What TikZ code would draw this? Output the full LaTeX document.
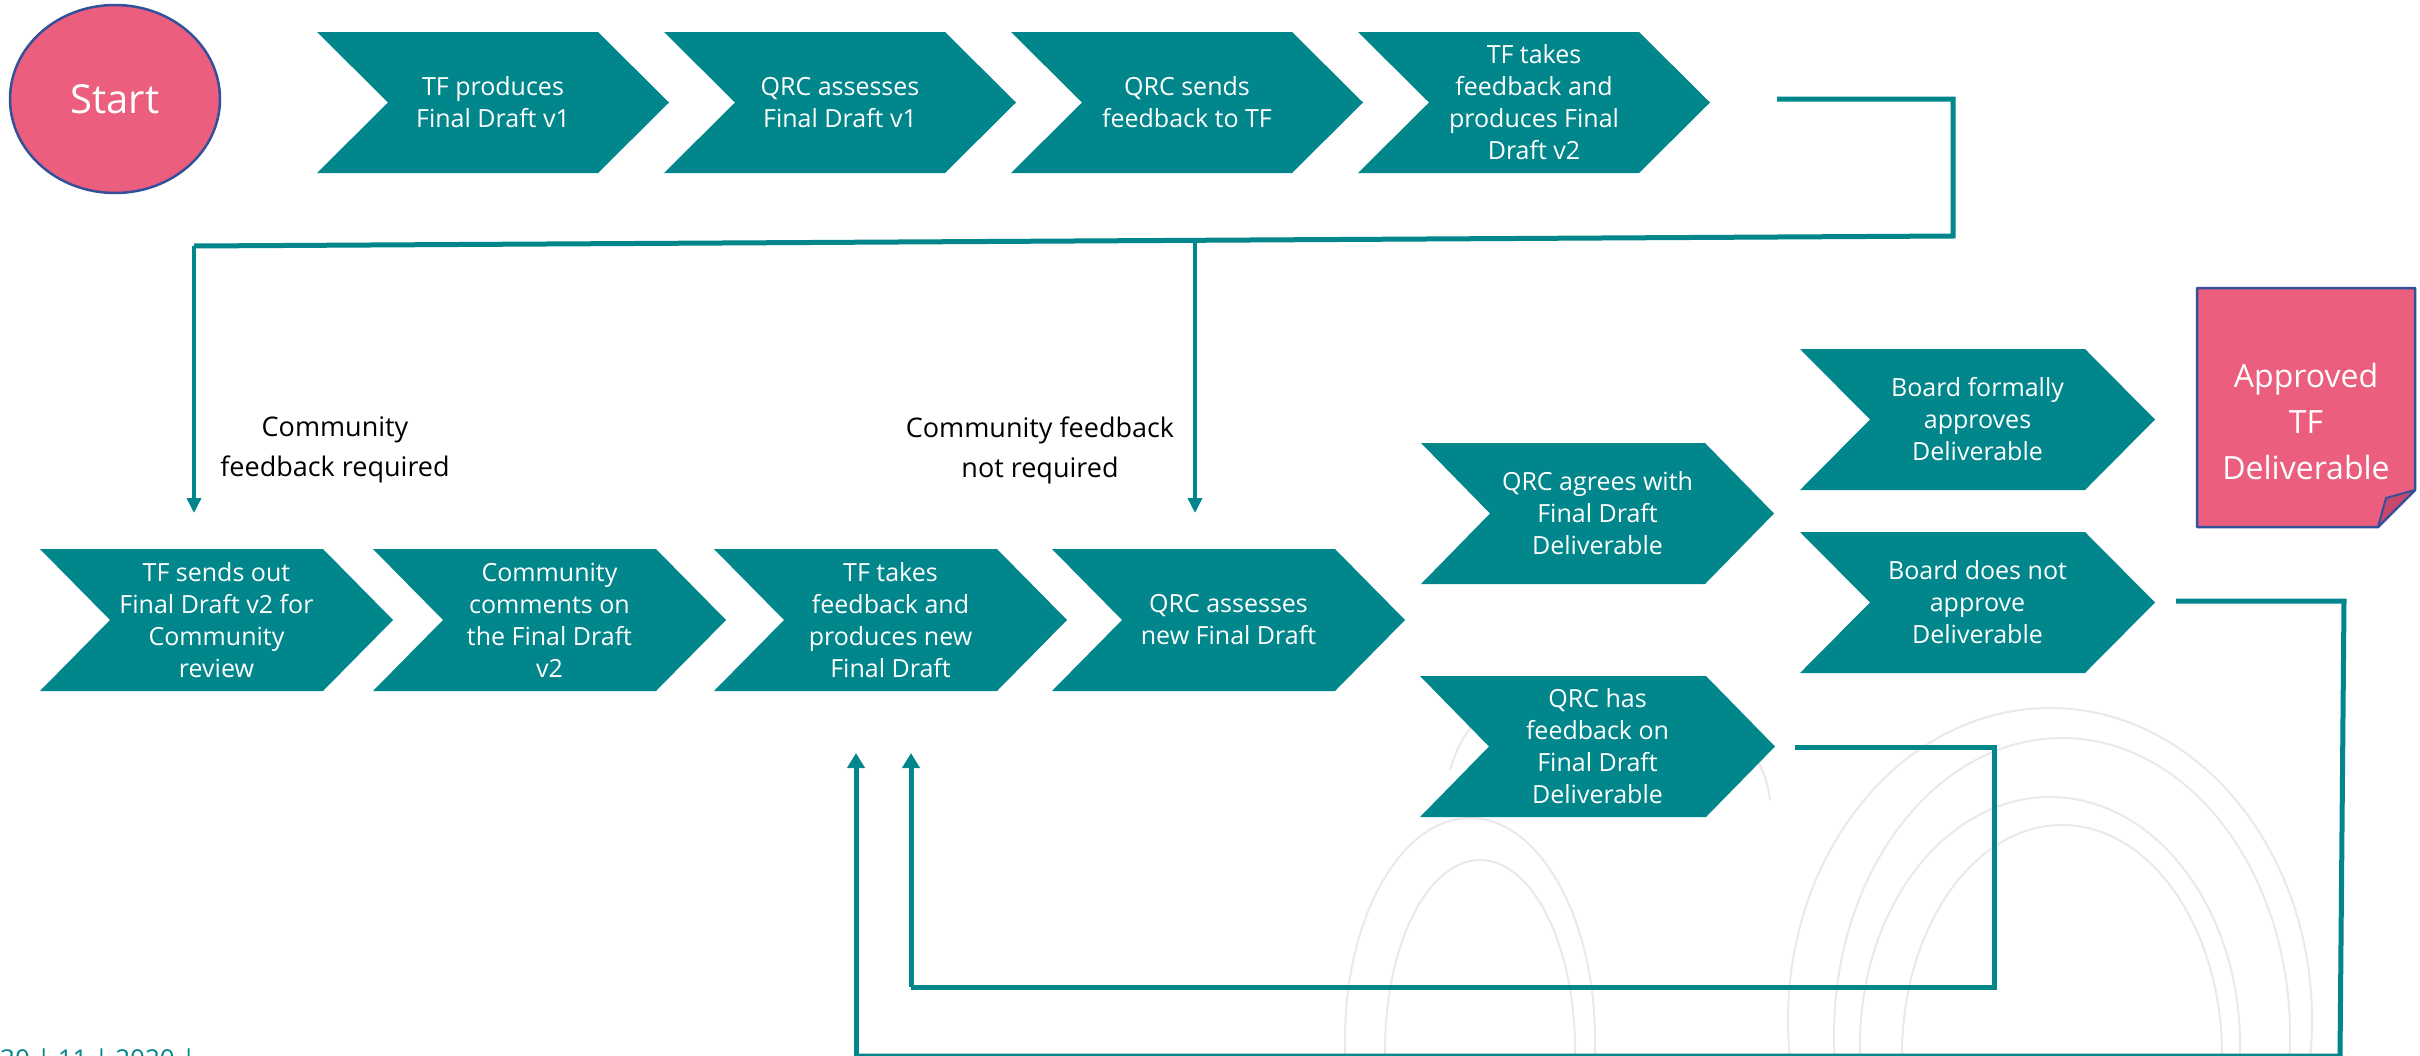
\documentclass[tikz,border=0pt]{standalone}
\usepackage{fontspec}
\setmainfont{Open Sans}
\usetikzlibrary{arrows.meta,shapes.geometric}
\definecolor{teal1}{HTML}{00868B}
\definecolor{pink1}{HTML}{EB5E7E}
\definecolor{pinkdark}{HTML}{C8486C}
\definecolor{blueb}{HTML}{34509A}
\definecolor{wm}{HTML}{E9E9E9}
\tikzset{
  chevfill/.style={fill=teal1},
  chevtext/.style={text=white, align=center, inner sep=0pt, font=\fontsize{25}{32}\selectfont},
  lbl/.style={text=black, align=center, inner sep=0pt, font=\fontsize{27}{40}\selectfont},
  mainline/.style={draw=teal1, line width=5pt},
  downarrow/.style={draw=teal1, line width=3.5pt, -{Triangle[width=14pt,length=15pt]}},
  uparrow/.style={draw=teal1, line width=5pt, -{Triangle[width=17pt,length=15pt]}},
  watermark/.style={draw=wm, line width=2pt},
}
\newcommand\chev[7]{%
  \fill[chevfill] (#2,#3) -- ({#2+#4-#6},#3) -- ({#2+#4},{#3+#5/2}) -- ({#2+#4-#6},{#3+#5}) -- (#2,{#3+#5}) -- ({#2+#6},{#3+#5/2}) -- cycle;
  \node[chevtext] (#1) at ({#2+#4/2},{#3+#5/2}) {#7};}
\begin{document}
\begin{tikzpicture}[x=1pt,y=-1pt]
\useasboundingbox (0,0) rectangle (2420,1055);
\clip (0,0) rectangle (2420,1055);
% watermark
\draw[watermark] (2050,1020) ellipse [x radius=262, y radius=312];
\draw[watermark] (2062,1035) ellipse [x radius=228, y radius=297];
\draw[watermark] (2050,1045) ellipse [x radius=190, y radius=248];
\draw[watermark] (2062,1055) ellipse [x radius=160, y radius=230];
\draw[watermark] (1470,1040) ellipse [x radius=125, y radius=222];
\draw[watermark] (1480,1050) ellipse [x radius=95, y radius=190];
\draw[watermark] (1450,770) .. controls (1470,700) and (1520,690) .. (1540,760) .. controls (1560,820) and (1610,800) .. (1640,760) .. controls (1680,700) and (1760,720) .. (1770,800);
% start
\node[ellipse, draw=blueb, fill=pink1, line width=2.5pt, minimum width=210pt, minimum height=188pt, inner sep=0pt, text=white, font=\fontsize{40}{46}\selectfont] (start) at (115,99) {Start};
% top row
\chev{c1}{317}{32}{352}{141}{71}{TF produces\\Final Draft v1}
\chev{c2}{664}{32}{352}{141}{71}{QRC assesses\\Final Draft v1}
\chev{c3}{1011}{32}{352}{141}{71}{QRC sends\\feedback to TF}
\chev{c4}{1358}{32}{352}{141}{71}{TF takes\\feedback and\\produces Final\\Draft v2}
% bottom row
\chev{c5}{40}{549}{353}{142}{70}{TF sends out\\Final Draft v2 for\\Community\\review}
\chev{c6}{373}{549}{353}{142}{70}{Community\\comments on\\the Final Draft\\v2}
\chev{c7}{714}{549}{353}{142}{70}{TF takes\\feedback and\\produces new\\Final Draft}
\chev{c8}{1052}{549}{353}{142}{70}{QRC assesses\\new Final Draft}
% right part
\chev{c9}{1421}{443}{353}{141}{69}{QRC agrees with\\Final Draft\\Deliverable}
\chev{c10}{1800}{349}{355}{141}{70}{Board formally\\approves\\Deliverable}
\chev{c11}{1800}{532}{355}{141}{70}{Board does not\\approve\\Deliverable}
\chev{c12}{1420}{676}{355}{141}{69}{QRC has\\feedback on\\Final Draft\\Deliverable}
% approved deliverable
\filldraw[fill=pink1, draw=blueb, line width=2.5pt, line join=round] (2197,288) -- (2415,288) -- (2415,490) -- (2378,527) -- (2197,527) -- cycle;
\filldraw[fill=pinkdark, draw=blueb, line width=2pt, line join=round] (2415,490) -- (2378,527) -- (2386,498) -- cycle;
\node[text=white, align=center, inner sep=0pt, font=\fontsize{32}{46}\selectfont] (appr) at (2306,421) {Approved\\TF\\Deliverable};
% labels
\node[lbl] (lreq) at (335,450) {Community\\feedback required};
\node[lbl] (lnreq) at (1040,450) {Community feedback\\not required};
% connectors
\coordinate (a1) at (1777,99);
\coordinate (a2) at (1953,99);
\coordinate (a3) at (1953,236);
\coordinate (a4) at (194,246);
\coordinate (a5) at (194,513);
\coordinate (b1) at (1195,241);
\coordinate (b2) at (1195,513);
\draw[mainline] (a1) -- (a2) -- (a3) -- (a4);
\draw[downarrow] (a4) -- (a5);
\draw[downarrow] (b1) -- (b2);
\coordinate (e1) at (1795,747);
\coordinate (e2) at (1994,747);
\coordinate (e3) at (1994,987);
\coordinate (e4) at (911,987);
\coordinate (e5) at (911,753);
\draw[mainline] (e1) -- (e2) -- (e3) -- (e4);
\draw[uparrow] (e4) -- (e5);
\coordinate (f1) at (2176,601);
\coordinate (f2) at (2344,601);
\coordinate (f3) at (2340,1056);
\coordinate (f4) at (856,1056);
\coordinate (f5) at (856,753);
\draw[mainline] (f1) -- (f2) -- (f3) -- (f4);
\draw[uparrow] (f4) -- (f5);
% footer (cut off at the page edge, as in the reference)
\node[anchor=north west, inner sep=0pt, text=teal1, font=\fontsize{26}{30}\selectfont] (foot) at (0,1049) {30 | 11 | 2020 |};
\end{tikzpicture}
\end{document}
